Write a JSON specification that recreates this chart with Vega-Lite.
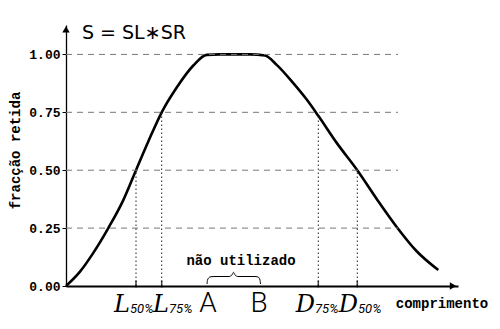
{
  "$schema": "https://vega.github.io/schema/vega-lite/v6.json",
  "width": 392,
  "height": 261,
  "autosize": "none",
  "padding": {"left": 66, "top": 25, "right": 42, "bottom": 43},
  "background": "white",
  "config": {
    "view": {"stroke": null},
    "axis": {"domainColor": "#000", "tickColor": "#000", "labelColor": "#000", "titleColor": "#000", "grid": false}
  },
  "datasets": {
    "curve": [
      {"x": 0, "y": 0}, {"x": 14, "y": 0.062}, {"x": 27.3, "y": 0.143}, {"x": 42.3, "y": 0.25},
      {"x": 57.3, "y": 0.371}, {"x": 70, "y": 0.5}, {"x": 82.3, "y": 0.624}, {"x": 95.7, "y": 0.75},
      {"x": 110.7, "y": 0.857}, {"x": 127.3, "y": 0.952}, {"x": 140.7, "y": 0.998}, {"x": 154, "y": 1.0},
      {"x": 184, "y": 1.0}, {"x": 199, "y": 0.995}, {"x": 210.7, "y": 0.955}, {"x": 227.3, "y": 0.876},
      {"x": 240.7, "y": 0.805}, {"x": 252.3, "y": 0.735}, {"x": 270.7, "y": 0.618}, {"x": 291.3, "y": 0.5},
      {"x": 310.7, "y": 0.376}, {"x": 330.7, "y": 0.255}, {"x": 350.7, "y": 0.15}, {"x": 372.3, "y": 0.069}
    ],
    "grid": [
      {"x": 0, "x2": 332, "y": 0.25}, {"x": 0, "x2": 332, "y": 0.5},
      {"x": 0, "x2": 332, "y": 0.75}, {"x": 0, "x2": 332, "y": 1.0}
    ],
    "marks": [
      {"x": 70, "y": 0, "y2": 0.5, "letter": "L", "sub": "50%", "xj": 64},
      {"x": 95.7, "y": 0, "y2": 0.75, "letter": "L", "sub": "75%", "xj": 103},
      {"x": 252.3, "y": 0, "y2": 0.74, "letter": "D", "sub": "75%", "xj": 249},
      {"x": 291.3, "y": 0, "y2": 0.5, "letter": "D", "sub": "50%", "xj": 292}
    ],
    "brace": [
      {"x": 141, "y": 0.0086}, {"x": 141.5, "y": 0.026}, {"x": 144, "y": 0.039}, {"x": 148, "y": 0.041},
      {"x": 163, "y": 0.041}, {"x": 166, "y": 0.048}, {"x": 167.5, "y": 0.059}, {"x": 169, "y": 0.048},
      {"x": 172, "y": 0.041}, {"x": 188, "y": 0.041}, {"x": 192, "y": 0.039}, {"x": 194, "y": 0.026},
      {"x": 194.5, "y": 0.0086}
    ],
    "arrows": [
      {"x": 387, "y": 0, "shape": "triangle-right"},
      {"x": 0, "y": 1.108, "shape": "triangle-up"}
    ],
    "ab": [{"x": 142, "y": -0.112, "t": "A"}, {"x": 193, "y": -0.112, "t": "B"}],
    "mono": [{"x": 175, "y": 0.091, "t": "não utilizado"}, {"x": 376, "y": -0.095, "t": "comprimento"}],
    "title": [{"x": 16, "y": 1.093, "t": "S = SL∗SR"}]
  },
  "layer": [
    {
      "data": {"name": "curve"},
      "mark": {"type": "line", "color": "#000", "strokeWidth": 2.6, "interpolate": "monotone"},
      "encoding": {
        "x": {"field": "x", "type": "quantitative", "scale": {"domain": [0, 392], "nice": false, "zero": false}, "axis": {"title": null, "labels": false, "ticks": false, "domainWidth": 1.8}},
        "y": {"field": "y", "type": "quantitative", "scale": {"domain": [0, 1.127], "nice": false, "zero": false}, "axis": {"title": "fracção retida", "values": [0, 0.25, 0.5, 0.75, 1], "format": ".2f", "tickSize": 4, "labelPadding": 2, "domainWidth": 1.3, "labelFont": "Liberation Mono", "labelFontWeight": "bold", "labelFontSize": 13, "titleFont": "Liberation Mono", "titleFontWeight": "bold", "titleFontSize": 14, "titleX": -51, "titleY": 125, "titleAngle": -90, "titleAlign": "center", "titleBaseline": "middle"}}
      }
    },
    {
      "data": {"name": "grid"},
      "mark": {"type": "rule", "color": "#777", "strokeDash": [6, 5], "strokeWidth": 1},
      "encoding": {
        "x": {"field": "x", "type": "quantitative"},
        "x2": {"field": "x2"},
        "y": {"field": "y", "type": "quantitative"}
      }
    },
    {
      "data": {"name": "marks"},
      "mark": {"type": "rule", "color": "#222", "strokeDash": [1.5, 2.5], "strokeWidth": 1},
      "encoding": {
        "x": {"field": "x", "type": "quantitative"},
        "y": {"field": "y", "type": "quantitative"},
        "y2": {"field": "y2"}
      }
    },
    {
      "data": {"name": "marks"},
      "mark": {"type": "tick", "orient": "vertical", "color": "#000", "thickness": 1.6, "size": 7, "yOffset": -2},
      "encoding": {
        "x": {"field": "x", "type": "quantitative"},
        "y": {"field": "y", "type": "quantitative"}
      }
    },
    {
      "data": {"name": "brace"},
      "mark": {"type": "line", "color": "#000", "strokeWidth": 1, "interpolate": "monotone"},
      "encoding": {
        "x": {"field": "x", "type": "quantitative"},
        "y": {"field": "y", "type": "quantitative"}
      }
    },
    {
      "data": {"name": "arrows"},
      "mark": {"type": "point", "filled": true, "color": "#000", "size": 55, "opacity": 1},
      "encoding": {
        "x": {"field": "x", "type": "quantitative"},
        "y": {"field": "y", "type": "quantitative"},
        "shape": {"field": "shape", "type": "nominal", "scale": null, "legend": null}
      }
    },
    {
      "data": {"name": "marks"},
      "mark": {"type": "text", "align": "right", "baseline": "alphabetic", "font": "DejaVu Serif", "fontStyle": "italic", "fontSize": 24, "color": "#000", "dy": 26},
      "encoding": {
        "x": {"field": "xj", "type": "quantitative"},
        "y": {"field": "y", "type": "quantitative"},
        "text": {"field": "letter"}
      }
    },
    {
      "data": {"name": "marks"},
      "mark": {"type": "text", "align": "left", "baseline": "alphabetic", "font": "Roboto", "fontStyle": "italic", "fontSize": 13, "color": "#000", "dy": 27},
      "encoding": {
        "x": {"field": "xj", "type": "quantitative"},
        "y": {"field": "y", "type": "quantitative"},
        "text": {"field": "sub"}
      }
    },
    {
      "data": {"name": "ab"},
      "mark": {"type": "text", "align": "center", "baseline": "alphabetic", "font": "Roboto", "fontWeight": 300, "fontSize": 28, "color": "#000"},
      "encoding": {
        "x": {"field": "x", "type": "quantitative"},
        "y": {"field": "y", "type": "quantitative"},
        "text": {"field": "t"}
      }
    },
    {
      "data": {"name": "mono"},
      "mark": {"type": "text", "align": "center", "baseline": "alphabetic", "font": "Liberation Mono", "fontWeight": "bold", "fontSize": 14, "color": "#000"},
      "encoding": {
        "x": {"field": "x", "type": "quantitative"},
        "y": {"field": "y", "type": "quantitative"},
        "text": {"field": "t"}
      }
    },
    {
      "data": {"name": "title"},
      "mark": {"type": "text", "align": "left", "baseline": "middle", "font": "DejaVu Sans", "fontSize": 19, "color": "#000"},
      "encoding": {
        "x": {"field": "x", "type": "quantitative"},
        "y": {"field": "y", "type": "quantitative"},
        "text": {"field": "t"}
      }
    }
  ]
}
